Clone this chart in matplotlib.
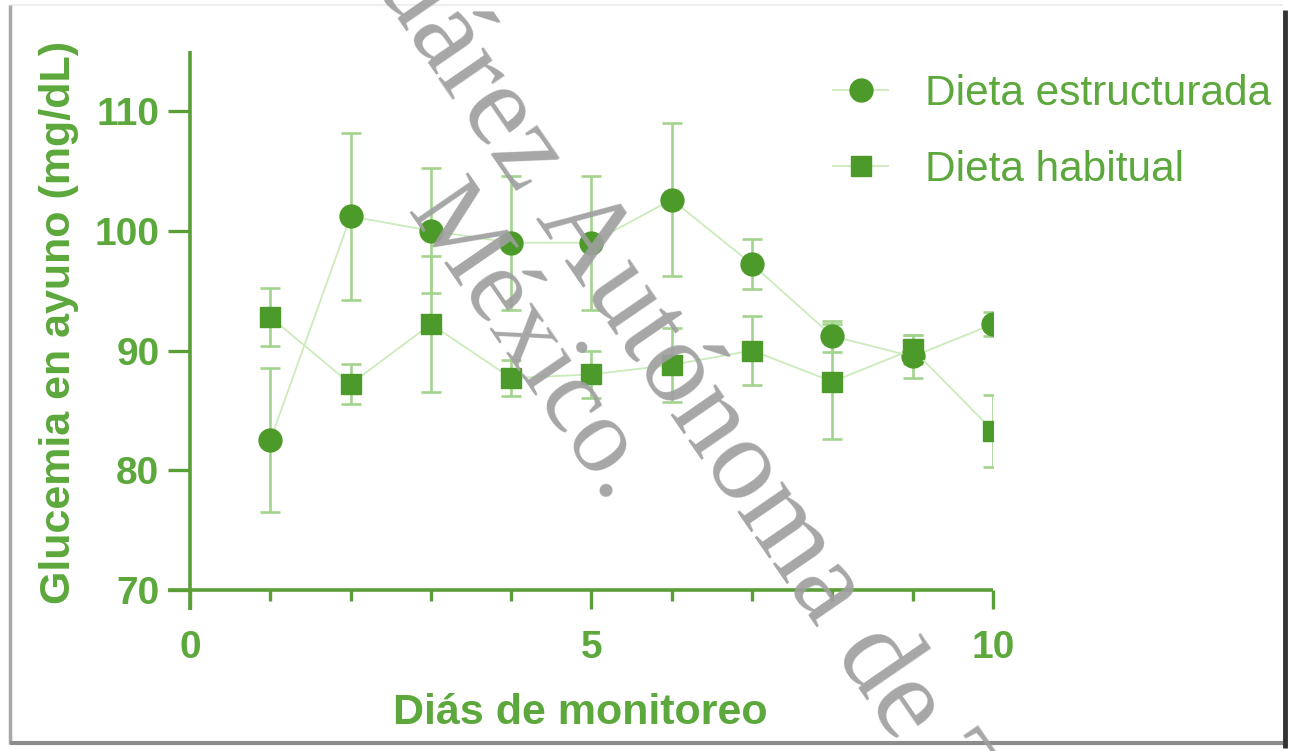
import matplotlib

matplotlib.use("Agg")
import matplotlib.pyplot as plt
from matplotlib.lines import Line2D
from matplotlib.ticker import FixedLocator

# ---------------------------------------------------------------------------
# Data
# ---------------------------------------------------------------------------
days = [1, 2, 3, 4, 5, 6, 7, 8, 9, 10]

estructurada_mean = [82.5, 101.2, 100.0, 99.0, 99.0, 102.6, 97.2, 91.2, 89.5, 92.2]
estructurada_err = [6.0, 7.0, 5.2, 5.6, 5.6, 6.4, 2.1, 1.3, 1.8, 1.0]

habitual_mean = [92.8, 87.2, 92.2, 87.7, 88.0, 88.8, 90.0, 87.4, 90.1, 83.3]
habitual_err = [2.4, 1.7, 5.7, 1.5, 2.0, 3.1, 2.9, 4.8, 1.2, 3.0]

series_labels = ["Dieta estructurada", "Dieta habitual"]
x_label = "Diás de monitoreo"
y_label = "Glucemia en ayuno (mg/dL)"
x_ticks = [0, 5, 10]
x_minor = [1, 2, 3, 4, 6, 7, 8, 9]
y_ticks = [70, 80, 90, 100, 110]

# ---------------------------------------------------------------------------
# Style
# ---------------------------------------------------------------------------
W, H = 1289, 751
DARK = "#4c9a2a"
AXIS = "#5a9e38"
TEXT = "#5ca83c"
ERR = "#a3d48e"
LINE = "#cbecba"

plt.rcParams["font.family"] = ["Liberation Sans", "DejaVu Sans"]

fig = plt.figure(figsize=(W / 100, H / 100), dpi=100)


def px_axes(left, top, right, bottom):
    return [left / W, 1 - bottom / H, (right - left) / W, (bottom - top) / H]


ax = fig.add_axes(px_axes(168.3, 51.1, 993, 610.4))
ax.set_xlim(-0.27, 10.0)
ax.set_ylim(68.3, 115.0)

ax.spines[["top", "right"]].set_visible(False)
ax.spines["left"].set_position(("data", 0))
ax.spines["bottom"].set_position(("data", 70))
for s in ("left", "bottom"):
    ax.spines[s].set_color(AXIS)
    ax.spines[s].set_linewidth(2.6)
    ax.spines[s].set_capstyle("butt")

ax.xaxis.set_major_locator(FixedLocator(x_ticks))
ax.xaxis.set_minor_locator(FixedLocator(x_minor))
ax.yaxis.set_major_locator(FixedLocator(y_ticks))
ax.tick_params(axis="x", which="major", length=14, width=2.4, color=AXIS,
               labelsize=28, labelcolor=TEXT, pad=15)
ax.tick_params(axis="x", which="minor", length=8, width=2.4, color=AXIS)
ax.tick_params(axis="y", which="major", length=16, width=2.4, color=AXIS,
               labelsize=28, labelcolor=TEXT, pad=6)
for lab in ax.get_xticklabels() + ax.get_yticklabels():
    lab.set_fontweight("bold")

# ---------------------------------------------------------------------------
# Series
# ---------------------------------------------------------------------------
for mean, err, marker, ms, label in [
    (estructurada_mean, estructurada_err, "o", 16.5, series_labels[0]),
    (habitual_mean, habitual_err, "s", 14.5, series_labels[1]),
]:
    ax.errorbar(days, mean, yerr=err, fmt="none", ecolor=ERR, elinewidth=1.9,
                capsize=7.2, capthick=1.9, zorder=2)
    ax.plot(days, mean, color=LINE, lw=1.3, marker=marker, ms=ms,
            mfc=DARK, mec=DARK, label=label, zorder=3)

ax.set_xlabel(x_label, fontsize=31, fontweight="bold", color=TEXT, labelpad=19)
ax.set_ylabel(y_label, fontsize=31, fontweight="bold", color=TEXT)
ax.yaxis.set_label_coords(79 / W, 1 - 322 / H, transform=fig.transFigure)

leg = ax.legend(loc="upper left", bbox_to_anchor=(833 / W, 1 - 74 / H),
                bbox_transform=fig.transFigure, frameon=False, fontsize=30.5,
                handlelength=1.3, handletextpad=0.87, labelspacing=0.84,
                borderpad=0, borderaxespad=0)
for t in leg.get_texts():
    t.set_color(TEXT)

# ---------------------------------------------------------------------------
# Page frame with shadow
# ---------------------------------------------------------------------------
def px_line(x0, y0, x1, y1, color, lw):
    fig.add_artist(Line2D([x0 / W, x1 / W], [1 - y0 / H, 1 - y1 / H],
                          transform=fig.transFigure, color=color, lw=lw,
                          solid_capstyle="butt"))


px_line(10, 5, 1283, 5, "#eeeeee", 1.5)
px_line(10, 5, 10, 744, "#a8a8a8", 2.5)
px_line(10, 743, 1283, 743, "#8c8c8c", 3.0)
px_line(1285, 10, 1285, 748, "#333333", 3.5)

# ---------------------------------------------------------------------------
# Watermark
# ---------------------------------------------------------------------------
wm = dict(family=["Liberation Serif", "DejaVu Serif"], color="#9f9f9f",
          alpha=0.92, rotation=-55.5, rotation_mode="anchor", va="baseline",
          zorder=10)
fig.text(518 / W, 1 - 194 / H, "Universidad Juárez", ha="right", fontsize=85, **wm)
fig.text(535 / W, 1 - 218 / H, "Autónoma de Tabasco.", ha="left", fontsize=85, **wm)
fig.text(406 / W, 1 - 212 / H, "México.", ha="left", fontsize=78, **wm)

fig.savefig("out.png", dpi=100)
